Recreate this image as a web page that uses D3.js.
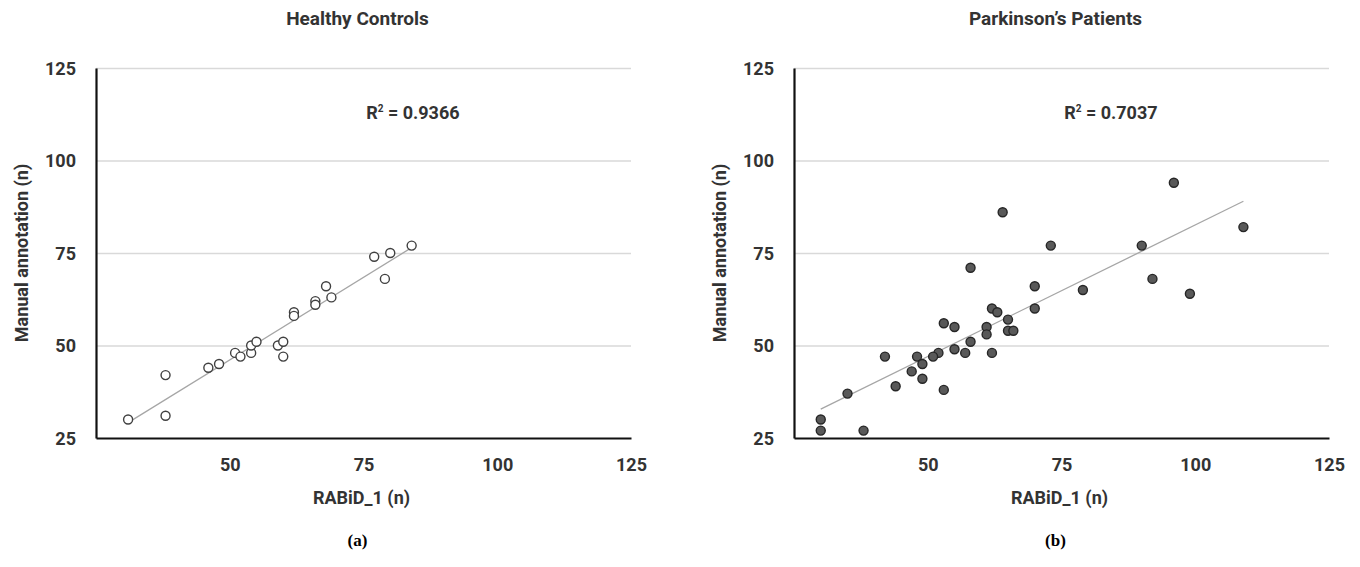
<!DOCTYPE html>
<html>
<head>
<meta charset="utf-8">
<script src="https://cdn.jsdelivr.net/npm/d3@7"></script>
<style>
  body { margin: 0; background: #fff; }
  svg text { font-family: Roboto, "Liberation Sans", sans-serif; font-weight: 700; fill: #333; }
  .cap { font-family: "Liberation Serif", "DejaVu Serif", serif !important; fill: #000 !important; }
</style>
</head>
<body>
<svg id="chart" width="1360" height="567"></svg>
<script>
/* data */
const xTicks = [50, 75, 100, 125]
const yTicks = [25, 50, 75, 100, 125]
const gridTicks = [50, 75, 100, 125]

// Healthy Controls
const hcX = [31, 38, 38, 46, 48, 51, 52, 54, 54, 55, 59, 60, 60, 62, 62, 66, 66, 68, 69, 77, 79, 80, 84]
const hcY = [30, 42, 31, 44, 45, 48, 47, 48, 50, 51, 50, 51, 47, 59, 58, 62, 61, 66, 63, 74, 68, 75, 77]

// Parkinson's Patients
const pdX = [64, 58, 70, 70, 62, 63, 65, 65, 66, 61, 61, 53, 55, 58, 55, 57, 62, 52, 51, 48, 49, 47, 42, 44, 49, 53, 35, 30, 30, 38, 73, 96, 109, 90, 92, 79, 99]
const pdY = [86, 71, 66, 60, 60, 59, 57, 54, 54, 55, 53, 56, 55, 51, 49, 48, 48, 48, 47, 47, 45, 43, 47, 39, 41, 38, 37, 30, 27, 27, 77, 94, 82, 77, 68, 65, 64]

const panels = [
  { title: 'Healthy Controls', r2: '0.9366', cap: '(a)', xs: hcX, ys: hcY, left: 96, filled: false },
  { title: 'Parkinson\u2019s Patients', r2: '0.7037', cap: '(b)', xs: pdX, ys: pdY, left: 794, filled: true }
]

const svg = d3.select('#chart')

function fit(xs, ys) {
  let mx = d3.mean(xs), my = d3.mean(ys)
  let sxy = 0, sxx = 0
  xs.forEach((x, i) => { sxy += (x - mx) * (ys[i] - my); sxx += (x - mx) * (x - mx) })
  let b = sxy / sxx
  return { b, a: my - b * mx }
}

function drawPanel(p) {
  let width = 535, height = 370, top = 68
  let g = svg.append('g').attr('transform', `translate(${p.left},${top})`)

  let x = d3.scaleLinear().domain([25, 125]).range([0, width])
  let y = d3.scaleLinear().domain([25, 125]).range([height, 0])

  // gridlines
  g.append('g')
    .call(d3.axisLeft(y).tickValues(gridTicks).tickSize(-width).tickFormat(''))
    .call(s => s.select('.domain').remove())
    .selectAll('line').attr('stroke', '#d9d9d9').attr('stroke-width', 1.5)

  // axes
  let ya = g.append('g')
    .call(d3.axisLeft(y).tickValues(yTicks).tickSize(0).tickPadding(20))
  ya.select('.domain').attr('stroke', '#111').attr('stroke-width', 2.2)
  ya.selectAll('text').style('font-size', '18px').attr('dy', '0.35em')

  let xa = g.append('g').attr('transform', `translate(0,${height})`)
    .call(d3.axisBottom(x).tickValues(xTicks).tickSize(0).tickPadding(20))
  xa.select('.domain').attr('stroke', '#111').attr('stroke-width', 2.2)
  xa.selectAll('text').style('font-size', '18px')

  // trend line
  let f = fit(p.xs, p.ys)
  let x0 = d3.min(p.xs), x1 = d3.max(p.xs)
  g.append('line')
    .attr('x1', x(x0)).attr('y1', y(f.a + f.b * x0))
    .attr('x2', x(x1)).attr('y2', y(f.a + f.b * x1))
    .attr('stroke', '#a6a6a6').attr('stroke-width', 1.3)

  // points
  g.selectAll('.pt')
    .data(p.xs.map((v, i) => [v, p.ys[i]]))
    .enter().append('circle')
    .attr('class', 'pt')
    .attr('cx', d => x(d[0]))
    .attr('cy', d => y(d[1]))
    .attr('r', 4.5)
    .attr('fill', p.filled ? '#595959' : '#fff')
    .attr('stroke', p.filled ? '#262626' : '#404040')
    .attr('stroke-width', 1.4)

  // texts
  g.append('text').attr('x', width / 2 - 6).attr('y', -43)
    .attr('text-anchor', 'middle').style('font-size', '19px').text(p.title)

  let r = g.append('text').attr('x', x(75.5)).attr('y', 51).style('font-size', '18px')
  r.append('tspan').text('R')
  r.append('tspan').attr('dy', -7).style('font-size', '10px').text('2')
  r.append('tspan').attr('dy', 7).text(' = ' + p.r2)

  g.append('text').attr('x', width / 2 - 2).attr('y', height + 66)
    .attr('text-anchor', 'middle').style('font-size', '18px').text('RABiD_1 (n)')

  g.append('text')
    .attr('transform', `translate(-68,${height / 2}) rotate(-90)`)
    .attr('text-anchor', 'middle').style('font-size', '18px').text('Manual annotation (n)')

  g.append('text').attr('class', 'cap').attr('x', width / 2 - 6).attr('y', height + 108)
    .attr('text-anchor', 'middle').style('font-size', '17px').text(p.cap)
}

panels.forEach(drawPanel)
</script>
</body>
</html>
